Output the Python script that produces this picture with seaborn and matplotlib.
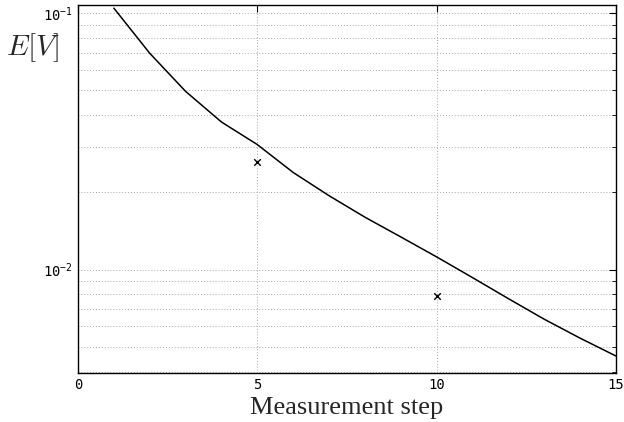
import numpy as np
import pandas as pd
import matplotlib
matplotlib.use('Agg')
import matplotlib.pyplot as plt
import seaborn as sns

# values
steps = list(range(1, 16))
expected_v = [0.1045, 0.0697, 0.0495, 0.0376, 0.0307, 0.0239, 0.0194, 0.0160,
              0.0134, 0.0112, 0.0093, 0.0077, 0.0064, 0.0054, 0.0046]
marker_steps = [5, 10]
marker_values = [0.0262, 0.00785]

sns.set_style('white')
plt.rcParams['font.family'] = ['DejaVu Sans Mono', 'DejaVu Sans']

line_df = pd.DataFrame({'step': steps, 'ev': expected_v})
pts_df = pd.DataFrame({'step': marker_steps, 'ev': marker_values})

fig = plt.figure(figsize=(6.24, 4.22), dpi=100)
ax = fig.add_axes([78 / 624, 1 - 373 / 422, 538 / 624, 368 / 422])

sns.lineplot(data=line_df, x='step', y='ev', color='black', linewidth=1.1, ax=ax)
sns.scatterplot(data=pts_df, x='step', y='ev', marker='x', color='black', s=22,
                linewidth=1.0, ax=ax)

ax.set_yscale('log')
ax.set_xlim(0, 15)
ax.set_ylim(0.00395, 0.1075)
ax.set_xticks([0, 5, 10, 15])

grid_kw = dict(linestyle=(0, (1, 2)), color='#a8a8a8', linewidth=0.7)
ax.grid(True, which='major', axis='both', **grid_kw)
ax.grid(True, which='minor', axis='y', **grid_kw)
ax.tick_params(which='both', direction='in', top=True, right=True, colors='black',
               labelsize=10)
ax.tick_params(which='major', length=5)
ax.tick_params(which='minor', length=3)
ax.tick_params(axis='x', which='minor', bottom=False, top=False)
for sp in ax.spines.values():
    sp.set_color('black')
    sp.set_linewidth(1.0)

ax.set_xlabel('Measurement step', family='Liberation Serif', fontsize=19, labelpad=4)
ax.set_ylabel(r'$E[V]$', rotation=0, fontsize=21, math_fontfamily='cm', va='center')
ax.yaxis.set_label_coords(-0.083, 0.885)

fig.savefig('out.png', dpi=100)
